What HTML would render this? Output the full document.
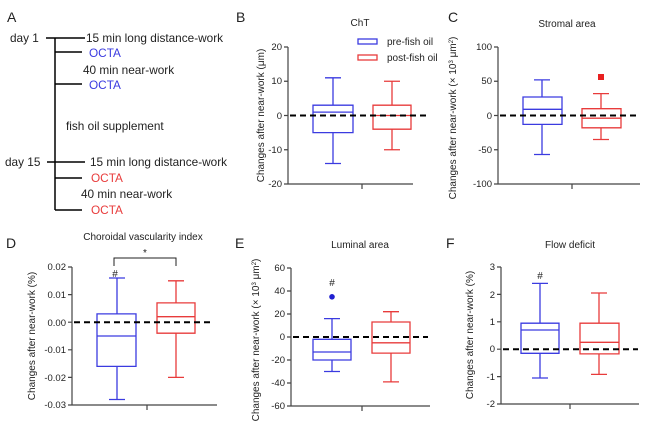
<!DOCTYPE html>
<html><head><meta charset="utf-8"><style>
body{margin:0;background:#fff;}
svg{display:block;font-family:"Liberation Sans",sans-serif;}
.t{font-size:11.8px;fill:#222;}
.tk{font-size:9.5px;fill:#222;text-anchor:end;}
.ttl{font-size:10px;fill:#222;text-anchor:middle;}
.lab{font-size:14px;fill:#222;}
.yl{font-size:10px;fill:#222;text-anchor:middle;}
.lg{font-size:10px;fill:#222;}
.ax{stroke:#444;stroke-width:1.2;fill:none;}
.b{stroke:#3b3be0;stroke-width:1.3;fill:none;}
.r{stroke:#e83b3b;stroke-width:1.3;fill:none;}
.d{stroke:#000;stroke-width:2;stroke-dasharray:6,4;}
</style></head><body>
<svg width="650" height="426" viewBox="0 0 650 426">
<!-- A -->
<text class="lab" x="7" y="22">A</text>
<g stroke="#000" stroke-width="1.5">
<line x1="55" y1="38" x2="55" y2="210"/>
<line x1="46" y1="38" x2="85" y2="38"/>
<line x1="55" y1="52" x2="82" y2="52"/>
<line x1="55" y1="84" x2="82" y2="84"/>
<line x1="47" y1="162" x2="85" y2="162"/>
<line x1="55" y1="178" x2="82" y2="178"/>
<line x1="55" y1="210" x2="82" y2="210"/>
</g>
<text class="t" x="10" y="42">day 1</text>
<text class="t" x="86" y="42">15 min long distance-work</text>
<text class="t" x="89" y="57" style="fill:#3b3be0">OCTA</text>
<text class="t" x="83" y="74">40 min near-work</text>
<text class="t" x="89" y="89" style="fill:#3b3be0">OCTA</text>
<text class="t" x="66" y="130">fish oil supplement</text>
<text class="t" x="5" y="166">day 15</text>
<text class="t" x="90" y="166">15 min long distance-work</text>
<text class="t" x="91" y="182" style="fill:#e83b3b">OCTA</text>
<text class="t" x="81" y="198">40 min near-work</text>
<text class="t" x="91" y="214" style="fill:#e83b3b">OCTA</text>

<!-- B -->
<text class="lab" x="236" y="22">B</text>
<text class="ttl" x="360" y="26">ChT</text>
<rect x="358" y="39" width="19" height="5" class="b"/>
<rect x="358" y="55" width="19" height="5" class="r"/>
<text class="lg" x="387" y="45">pre-fish oil</text>
<text class="lg" x="387" y="61">post-fish oil</text>
<path class="ax" d="M288,47V184H413M284,47H288M284,81.25H288M284,115.5H288M284,149.75H288M284,184H288M362,184V189"/>
<text class="tk" x="282" y="50">20</text><text class="tk" x="282" y="84">10</text><text class="tk" x="282" y="119">0</text><text class="tk" x="282" y="153">-10</text><text class="tk" x="282" y="187">-20</text>
<text class="yl" transform="translate(264,115.5) rotate(-90)">Changes after near-work (μm)</text>
<path class="b" d="M313,105.2H353V132.6H313ZM313,112.1H353M333,105.2V77.8M325,77.8H341M333,132.6V163.5M325,163.5H341"/>
<path class="r" d="M373,105.2H411V129.2H373ZM373,115.5H411M392,105.2V81.25M384,81.25H400M392,129.2V149.75M384,149.75H400"/>
<line class="d" x1="290" y1="115.5" x2="428" y2="115.5"/>

<!-- C -->
<text class="lab" x="448" y="22">C</text>
<text class="ttl" x="567" y="27">Stromal area</text>
<path class="ax" d="M498,47V184H640M494,47H498M494,81.25H498M494,115.5H498M494,149.75H498M494,184H498M572,184V189"/>
<text class="tk" x="492" y="50">100</text><text class="tk" x="492" y="84">50</text><text class="tk" x="492" y="119">0</text><text class="tk" x="492" y="153">-50</text><text class="tk" x="492" y="187">-100</text>
<text class="yl" transform="translate(456,118) rotate(-90)">Changes after near-work (× 10<tspan font-size="6" dy="-3">3</tspan><tspan dy="3"> μm</tspan><tspan font-size="6" dy="-3">2</tspan><tspan dy="3">)</tspan></text>
<path class="b" d="M523,97H562V124.4H523ZM523,109.3H562M542,97V79.9M534,79.9H550M542,124.4V154.5M534,154.5H550"/>
<path class="r" d="M582,108.7H621V127.8H582ZM582,118.2H621M601,108.7V93.6M593,93.6H609M601,127.8V139.5M593,139.5H609"/>
<rect x="598" y="74" width="6" height="6" fill="#e82020"/>
<line class="d" x1="500" y1="115.5" x2="638" y2="115.5"/>

<!-- D -->
<text class="lab" x="6" y="248">D</text>
<text class="ttl" x="143" y="240">Choroidal vascularity index</text>
<path class="ax" d="M72,267V405H217M68,267H72M68,294.6H72M68,322.2H72M68,349.8H72M68,377.4H72M68,405H72M147,405V410"/>
<text class="tk" x="66" y="270">0.02</text><text class="tk" x="66" y="298">0.01</text><text class="tk" x="66" y="326">0.00</text><text class="tk" x="66" y="353">-0.01</text><text class="tk" x="66" y="381">-0.02</text><text class="tk" x="66" y="408">-0.03</text>
<text class="yl" transform="translate(35,336) rotate(-90)">Changes after near-work (%)</text>
<path stroke="#222" stroke-width="1" fill="none" d="M114,266V258H176V266"/>
<text class="ttl" x="145" y="256">*</text>
<text class="ttl" x="115" y="277">#</text>
<path class="b" d="M97,313.9H136V366.4H97ZM97,336H136M117,313.9V278M109,278H125M117,366.4V399.5M109,399.5H125"/>
<path class="r" d="M157,302.9H195V333.2H157ZM157,316.7H195M176,302.9V280.8M168,280.8H184M176,333.2V377.4M168,377.4H184"/>
<line class="d" x1="74" y1="322.2" x2="212" y2="322.2"/>

<!-- E -->
<text class="lab" x="235" y="248">E</text>
<text class="ttl" x="360" y="248">Luminal area</text>
<path class="ax" d="M291,268V406H430M287,268H291M287,291H291M287,314H291M287,337H291M287,360H291M287,383H291M287,406H291M362,406V411"/>
<text class="tk" x="285" y="271">60</text><text class="tk" x="285" y="294">40</text><text class="tk" x="285" y="317">20</text><text class="tk" x="285" y="340">0</text><text class="tk" x="285" y="363">-20</text><text class="tk" x="285" y="386">-40</text><text class="tk" x="285" y="409">-60</text>
<text class="yl" transform="translate(259,340) rotate(-90)">Changes after near-work (× 10<tspan font-size="6" dy="-3">3</tspan><tspan dy="3"> μm</tspan><tspan font-size="6" dy="-3">2</tspan><tspan dy="3">)</tspan></text>
<text class="ttl" x="332" y="286">#</text>
<circle cx="332" cy="296.8" r="2.8" fill="#2020d0"/>
<path class="b" d="M313,339.3H351V360H313ZM313,352H351M332,339.3V318.6M324,318.6H340M332,360V371.5M324,371.5H340"/>
<path class="r" d="M372,322H410V353.1H372ZM372,342.8H410M391,322V311.7M383,311.7H399M391,353.1V381.9M383,381.9H399"/>
<line class="d" x1="293" y1="337" x2="428" y2="337"/>

<!-- F -->
<text class="lab" x="446" y="248">F</text>
<text class="ttl" x="570" y="248">Flow deficit</text>
<path class="ax" d="M501,267V404H639M497,267H501M497,294.4H501M497,321.8H501M497,349.2H501M497,376.6H501M497,404H501M570,404V409"/>
<text class="tk" x="495" y="270">3</text><text class="tk" x="495" y="298">2</text><text class="tk" x="495" y="325">1</text><text class="tk" x="495" y="352">0</text><text class="tk" x="495" y="380">-1</text><text class="tk" x="495" y="407">-2</text>
<text class="yl" transform="translate(473,335) rotate(-90)">Changes after near-work (%)</text>
<text class="ttl" x="540" y="279">#</text>
<path class="b" d="M521,323.2H559V353.3H521ZM521,330H559M540,323.2V283.4M532,283.4H548M540,353.3V378M532,378H548"/>
<path class="r" d="M580,323.2H619V353.9H580ZM580,342.3H619M599,323.2V293M591,293H607M599,353.9V374.4M591,374.4H607"/>
<line class="d" x1="503" y1="349.2" x2="638" y2="349.2"/>
</svg>
</body></html>
